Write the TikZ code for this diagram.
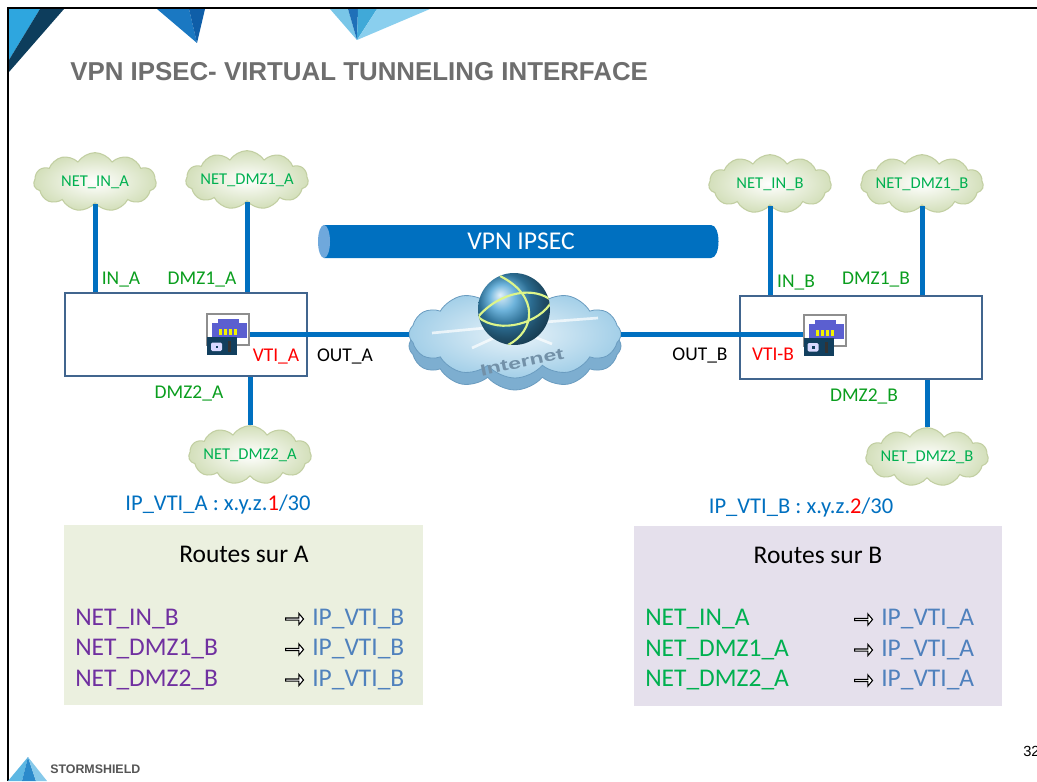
\documentclass[tikz,border=0pt]{standalone}
\usepackage{fontspec}
\setmainfont{Carlito}
\newfontfamily\arial{Liberation Sans}
\usetikzlibrary{shapes.symbols,shapes.arrows}

\definecolor{linkblue}{HTML}{0070C0}
\definecolor{boxedge}{HTML}{41658E}
\definecolor{netgreen}{HTML}{00B050}
\definecolor{ifgreen}{HTML}{0A9E1E}
\definecolor{vtired}{HTML}{FF0000}
\definecolor{routepurple}{HTML}{7030A0}
\definecolor{routeblue}{HTML}{4F81BD}
\definecolor{routeAfill}{HTML}{EBF0DF}
\definecolor{routeBfill}{HTML}{E5E0EC}
\definecolor{cloudfill}{HTML}{D3DFBA}
\definecolor{cloudedge}{HTML}{C2CFA2}
\definecolor{titlegray}{HTML}{6E6E6E}
\definecolor{brandgray}{HTML}{555555}
\definecolor{vpnend}{HTML}{6FA8DC}
\definecolor{inettop}{HTML}{A3CFE8}
\definecolor{inetside}{HTML}{7DAED0}
\definecolor{inetedge}{HTML}{6A9CC0}
\definecolor{inettext}{HTML}{7391A8}
\definecolor{globeblue}{HTML}{3E9BD0}
\definecolor{meridian}{HTML}{DDF58A}
\definecolor{portblue}{HTML}{5B5FD0}
\definecolor{pinyellow}{HTML}{F2F200}
\definecolor{locknavy}{HTML}{123F5E}
\definecolor{framegray}{HTML}{8E8E8E}
% corner pieces
\definecolor{skyA}{HTML}{2EA6DF}
\definecolor{navyA}{HTML}{0D3D5C}
\definecolor{blueB}{HTML}{1A78C2}
\definecolor{deepB}{HTML}{0F5EA8}
\definecolor{paleC}{HTML}{79C6E8}
\definecolor{deepC}{HTML}{1F70B8}
\definecolor{midC}{HTML}{40A9D8}
\definecolor{lightC}{HTML}{8ACFEE}
\definecolor{logoL}{HTML}{5DB7E3}
\definecolor{logoM}{HTML}{2B8ACB}
\definecolor{logoR}{HTML}{86C9EA}

\tikzset{
  link/.style={linkblue, line width=3.75pt},
  fwbox/.style={draw=boxedge, line width=1.5pt, minimum width=181.5pt,
    minimum height=62.25pt, inner sep=0},
  netcloud/.style={cloud, cloud puffs=11, cloud puff arc=115, cloud ignores aspect,
    draw=cloudedge, line width=0.8pt, inner color=white, outer color=cloudfill,
    minimum width=92pt, minimum height=44pt, inner sep=0},
  netlbl/.style={text=netgreen, font=\fontsize{12.4}{14}\selectfont},
  iflbl/.style={anchor=base, text=ifgreen, font=\fontsize{14.6}{17}\selectfont, inner sep=0},
  portlbl/.style={anchor=base, font=\fontsize{14.6}{17}\selectfont, inner sep=0},
  iplbl/.style={anchor=base, text=linkblue, font=\fontsize{16.9}{20}\selectfont, inner sep=0},
  routebox/.style={minimum height=135pt, inner sep=0},
  routetxt/.style={anchor=base west, font=\fontsize{19.1}{23}\selectfont, inner sep=0},
  routearr/.style={single arrow, draw=black, fill=white, line width=0.8pt, anchor=west,
    minimum height=13.5pt, minimum width=8.5pt, single arrow head extend=1.8pt,
    single arrow tip angle=100, inner sep=0},
  inetcloud/.style={cloud, cloud puffs=12, cloud puff arc=100, cloud ignores aspect,
    minimum width=159pt, minimum height=66pt, inner sep=0, draw=inetedge, line width=0.6pt},
  iconframe/.style={draw=framegray, line width=1.5pt, minimum width=31.5pt,
    minimum height=23.25pt, inner sep=0},
  fwicon/.pic={
    \node[iconframe] (-frame) at (0,0) {};
    \fill[portblue] (-10,-10.5) rectangle (11,-6.5);
    \fill[portblue] (-16,-6.5) rectangle (19,8.5);
    \foreach \p in {-9,-4,1,6}
      \fill[pinyellow] (\p,-0.5) rectangle ++(3,6);
    \fill[locknavy] (-21,7.5) rectangle (9,25.5);
    \fill[white!85!blue, rounded corners=1pt] (-17,13) rectangle (-6,21.5);
    \fill[locknavy] (-12.5,16) rectangle (-10,18.5);
    \fill[black!80] (0,11.5) rectangle (3,22.5);
  }
}

\begin{document}
\begin{tikzpicture}[x=0.75pt, y=-0.75pt]
  \useasboundingbox (0,0) rectangle (1037,781);
  \fill[white] (0,0) rectangle (1037,781);

  % slide frame and corner decorations
  \fill[skyA] (9,9) -- (40,9) -- (9,60) -- cycle;
  \fill[navyA] (40,9) -- (64,9) -- (9,72) -- (9,60) -- cycle;
  \fill[blueB] (157,9) -- (189,9) -- (197,43) -- cycle;
  \fill[deepB] (189,9) -- (205,9) -- (197,43) -- cycle;
  \fill[paleC] (330,9) -- (348,9) -- (357,40) -- cycle;
  \fill[deepC] (348,9) -- (358,9) -- (357,40) -- cycle;
  \fill[midC] (358,9) -- (377,9) -- (357,40) -- cycle;
  \fill[lightC] (377,9) -- (430,9) -- (357,40) -- cycle;
  \draw[line width=1.6pt] (8,781) -- (8,8) -- (1037,8);

  \node[anchor=west, text=titlegray, font=\arial\bfseries\fontsize{19.4}{23}\selectfont,
    inner sep=0] (title) at (70,72) {VPN IPSEC- VIRTUAL TUNNELING INTERFACE};

  % tunnel
  \fill[linkblue] (324,225) -- (711,225) .. controls (721,225) and (721,258) .. (711,258)
    -- (324,258) -- cycle;
  \fill[vpnend] (324,241.5) ellipse[x radius=4.5pt, y radius=12.4pt];
  \node[text=white, font=\fontsize{19.2}{23}\selectfont, inner sep=0] (vpn) at (521,241.5) {VPN IPSEC};

  % firewalls
  \node[fwbox] (fwA) at (186,334.5) {};
  \node[fwbox] (fwB) at (861,337.5) {};
  \pic (icA) at (228,329.5) {fwicon};
  \pic (icB) at (824.5,330) {fwicon};

  % internet
  \node[inetcloud, fill=inetside] (inetbase) at (515,346) {};
  \node[inetcloud, inner color=white!75!inettop, outer color=inettop] (inet) at (515,334) {};
  \draw[white, opacity=0.7, line width=2pt] (485,328) -- (432,333)
    (545,322) -- (598,318) (498,336) -- (472,348) (532,336) -- (552,344);
  \node[circle, minimum size=54pt, inner sep=0, shading=ball, ball color=globeblue] (globe) at (514,309) {};
  \begin{scope}
    \clip (globe.center) circle[radius=27pt];
    \draw[meridian, line width=1.6pt] (478,317) .. controls (500,291) and (535,286) .. (552,301)
      (478,317) .. controls (500,335) and (540,323) .. (552,301)
      (500,276) .. controls (540,296) and (535,331) .. (508,345);
  \end{scope}
  \node[rotate=12, xscale=1.45, text=inettext, font=\arial\bfseries\fontsize{12}{14}\selectfont]
    (inettxt) at (522,362) {Internet};

  \draw[link] (inet.west) -- (inet.west -| icA-frame.east);
  \draw[link] (inet.east) -- (inet.east -| icB-frame.west);

  % networks behind A
  \node[netcloud, label={[netlbl]center:NET\_IN\_A}] (cInA) at (95,182) {};
  \node[netcloud, label={[netlbl]center:NET\_DMZ1\_A}] (cDmzOneA) at (247,180) {};
  \node[netcloud, label={[netlbl]center:NET\_DMZ2\_A}] (cDmzTwoA) at (250,455) {};
  \draw[link] (cInA.south) -- (cInA.south |- fwA.north);
  \draw[link] (cDmzOneA.south) -- (cDmzOneA.south |- fwA.north);
  \draw[link] (fwA.south -| cDmzTwoA.north) -- (cDmzTwoA.north);

  % networks behind B
  \node[netcloud, label={[netlbl]center:NET\_IN\_B}] (cInB) at (770,184) {};
  \node[netcloud, label={[netlbl]center:NET\_DMZ1\_B}] (cDmzOneB) at (922,184) {};
  \node[netcloud, label={[netlbl]center:NET\_DMZ2\_B}] (cDmzTwoB) at (927,457) {};
  \draw[link] (cInB.south) -- (cInB.south |- fwB.north);
  \draw[link] (cDmzOneB.south) -- (cDmzOneB.south |- fwB.north);
  \draw[link] (fwB.south -| cDmzTwoB.north) -- (cDmzTwoB.north);

  % interface names
  \node[iflbl] (lInA) at (121,284) {IN\_A};
  \node[iflbl] (lDmzOneA) at (202,284) {DMZ1\_A};
  \node[iflbl] (lDmzTwoA) at (189,398) {DMZ2\_A};
  \node[portlbl, text=vtired] (lVtiA) at (276,361) {VTI\_A};
  \node[portlbl] (lOutA) at (345,361) {OUT\_A};
  \node[iflbl] (lInB) at (796,287) {IN\_B};
  \node[iflbl] (lDmzOneB) at (876,284) {DMZ1\_B};
  \node[iflbl] (lDmzTwoB) at (864,401) {DMZ2\_B};
  \node[portlbl, text=vtired] (lVtiB) at (773,360) {VTI-B};
  \node[portlbl] (lOutB) at (700,360) {OUT\_B};

  \node[iplbl] (ipA) at (218,510) {IP\_VTI\_A : x.y.z.\textcolor{vtired}{1}/30};
  \node[iplbl] (ipB) at (801,513) {IP\_VTI\_B : x.y.z.\textcolor{vtired}{2}/30};

  % routing tables
  \node[routebox, fill=routeAfill, minimum width=269.25pt] (rtA) at (243.5,615) {};
  \node[routebox, fill=routeBfill, minimum width=276pt] (rtB) at (818,615.5) {};
  \node[anchor=base, font=\fontsize{19.1}{23}\selectfont, inner sep=0] (rtAhead) at (244,562) {Routes sur A};
  \node[anchor=base, font=\fontsize{19.1}{23}\selectfont, inner sep=0] (rtBhead) at (818,563) {Routes sur B};
  \foreach \net [count=\i] in {IN,DMZ1,DMZ2} {
    \node[routetxt, text=routepurple] (rA\i) at (75,{594.5+30.5*\i}) {NET\_\net\_B};
    \node[routearr] (aA\i) at (285,{588.5+30.5*\i}) {};
    \node[routetxt, text=routeblue] (gA\i) at (312,{594.5+30.5*\i}) {IP\_VTI\_B};
    \node[routetxt, text=netgreen] (rB\i) at (645,{595+30.5*\i}) {NET\_\net\_A};
    \node[routearr] (aB\i) at (854,{589+30.5*\i}) {};
    \node[routetxt, text=routeblue] (gB\i) at (881,{595+30.5*\i}) {IP\_VTI\_A};
  }

  % footer
  \fill[logoL] (8,781) -- (28,757) -- (22,781) -- cycle;
  \fill[logoM] (22,781) -- (28,757) -- (36,781) -- cycle;
  \fill[logoR] (36,781) -- (28,757) -- (47,781) -- cycle;
  \node[anchor=base west, inner sep=0, text=brandgray, font=\arial\bfseries\fontsize{9.3}{11}\selectfont]
    (brand) at (50,773) {STORMSHIELD};
  \node[anchor=base west, inner sep=0, font=\arial\fontsize{11}{13}\selectfont] (pageno) at (1023,756) {32};
\end{tikzpicture}
\end{document}
